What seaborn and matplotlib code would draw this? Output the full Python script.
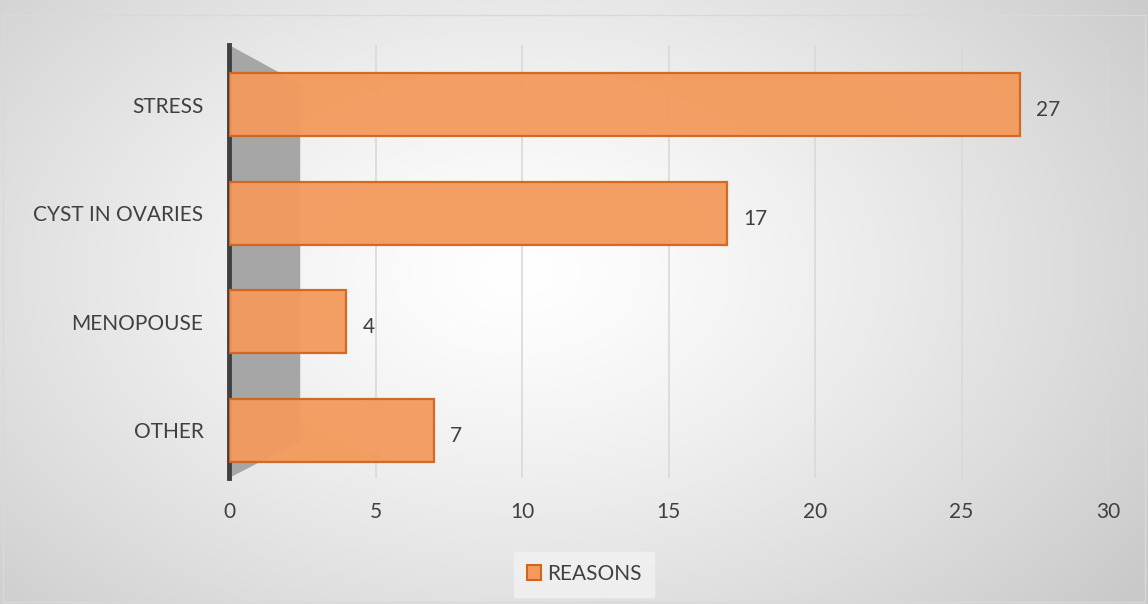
import numpy as np
import pandas as pd
import matplotlib
matplotlib.use("Agg")
import matplotlib.pyplot as plt
import seaborn as sns
from matplotlib.patches import Polygon, Rectangle

categories = ["STRESS", "CYST IN OVARIES", "MENOPOUSE", "OTHER"]
values = [27, 17, 4, 7]
series_name = "REASONS"
x_ticks = [0, 5, 10, 15, 20, 25, 30]

df = pd.DataFrame({"reason": categories, "count": values})

sns.set_theme(style="white")
plt.rcParams["font.family"] = ["Lato", "DejaVu Sans"]

W, H = 1148, 604
fig = plt.figure(figsize=(W / 100, H / 100), dpi=100)

# radial gradient background
bg = fig.add_axes([0, 0, 1, 1], zorder=0)
yy, xx = np.mgrid[0:H, 0:W]
cx, cy = 0.45 * W, 0.45 * H
r = np.sqrt(((xx - cx) / (0.75 * W)) ** 2 + ((yy - cy) / (0.95 * H)) ** 2)
shade = 1.0 - 0.24 * np.clip(r, 0, 1) ** 1.3
img = np.dstack([shade, shade, shade])
bg.imshow(img, aspect="auto", extent=[0, 1, 0, 1], origin="upper")
bg.set_axis_off()
bg.add_patch(Rectangle((0.003, 0.003), 0.994, 0.972, fill=False,
                       edgecolor="#d9d9d9", linewidth=1, transform=bg.transAxes))

ax = fig.add_axes([229 / W, 1 - 478 / H, (1108 - 229) / W, (478 - 45) / H], zorder=1)
ax.patch.set_alpha(0)

# side wall decoration
wall = Polygon([(0, 1.0), (0.081, 0.91), (0.081, 0.085), (0, 0)],
               closed=True, facecolor="#a6a6a6", edgecolor="none",
               transform=ax.transAxes, zorder=0.5)
ax.add_patch(wall)

sns.barplot(data=df, y="reason", x="count", orient="h", ax=ax,
            color="#F39A5C", edgecolor="#D2651E", linewidth=1.6,
            width=0.58, saturation=1, alpha=0.95, zorder=3)

for i, v in enumerate(values):
    ax.text(v + 0.55, i + 0.05, str(v), va="center", ha="left",
            fontsize=15, color="#404040", zorder=5)

ax.set_xlim(0, 30)
ax.set_ylim(3.44, -0.55)
ax.set_xticks(x_ticks)
ax.set_xticklabels([str(t) for t in x_ticks])
ax.grid(axis="x", color="#d9d9d9", linewidth=1.2, zorder=0)
ax.set_axisbelow(True)
ax.set_xlabel("")
ax.set_ylabel("")
for s in ["top", "right", "bottom"]:
    ax.spines[s].set_visible(False)
ax.spines["left"].set_color("#404040")
ax.spines["left"].set_linewidth(3.5)
ax.tick_params(axis="x", length=0, labelsize=15, labelcolor="#404040", pad=17)
ax.tick_params(axis="y", length=0, labelsize=15, labelcolor="#404040", pad=18.4)

handle = Rectangle((0, 0), 1, 1, facecolor="#F39A5C", edgecolor="#D2651E", linewidth=1.5)
leg = fig.legend([handle], [series_name], loc="center", bbox_to_anchor=(584 / W, 1 - 574 / H),
                 frameon=True, fontsize=15, handlelength=0.7, handleheight=0.7,
                 handletextpad=0.25, borderpad=0.6, fancybox=False)
leg.get_frame().set_facecolor("#f2f2f2")
leg.get_frame().set_edgecolor("#f2f2f2")
for t in leg.get_texts():
    t.set_color("#404040")

fig.savefig("out.png", dpi=100)
